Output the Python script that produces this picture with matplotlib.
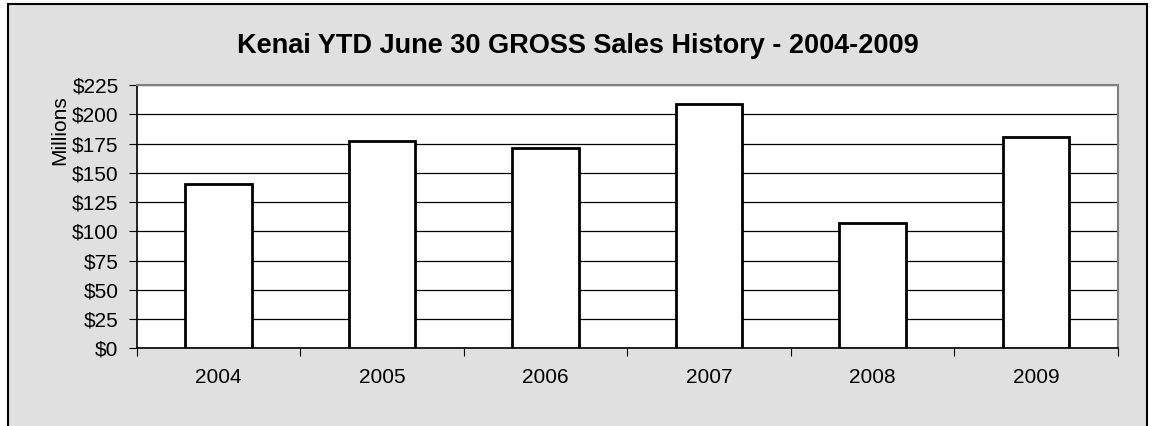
import matplotlib
matplotlib.use("Agg")
import matplotlib.pyplot as plt
from matplotlib.patches import Rectangle
import numpy as np

years = ["2004", "2005", "2006", "2007", "2008", "2009"]
sales = [140.6, 177.4, 171.4, 208.5, 107.3, 180.5]  # millions of dollars
yticks = [0, 25, 50, 75, 100, 125, 150, 175, 200, 225]

plt.rcParams['font.family'] = ['Liberation Sans', 'DejaVu Sans']

fig = plt.figure(figsize=(11.55, 4.26), dpi=100, facecolor='white')

# grey chart frame
fig.patches.append(Rectangle((8 / 1155, -0.05), 1139 / 1155, 1.05 - 4 / 426,
                             transform=fig.transFigure, facecolor='#e0e0e0',
                             edgecolor='black', linewidth=1.5, zorder=-5))

ax = fig.add_axes([0.1183, 0.1824, 0.8494, 0.618])
ax.set_facecolor('white')

x = np.arange(len(years))
ax.bar(x, sales, width=0.405, color='white', edgecolor='black', linewidth=2, zorder=3)

ax.set_ylim(0, 225)
ax.set_xlim(-0.5, len(years) - 0.5)
ax.set_yticks(yticks)
ax.set_yticklabels(["$%d" % v for v in yticks], fontsize=15)
ax.yaxis.grid(True, color='black', linewidth=0.9, zorder=1)
ax.set_axisbelow(True)

# ticks at category boundaries, labels at centers
ax.set_xticks(np.arange(-0.5, len(years), 1.0))
ax.set_xticklabels([])
ax.set_xticks(x, minor=True)
ax.set_xticklabels(years, minor=True, fontsize=15)
ax.tick_params(axis='x', which='minor', length=0, pad=14)
ax.tick_params(axis='x', which='major', length=6, direction='out', color='black')
ax.tick_params(axis='y', length=6, direction='out', pad=7, color='black')

for s in ['top', 'right']:
    ax.spines[s].set_color('#808080')
    ax.spines[s].set_linewidth(1.5)
for s in ['left', 'bottom']:
    ax.spines[s].set_color('black')
    ax.spines[s].set_linewidth(1.2)

ax.set_ylabel("Millions", fontsize=15)
ax.yaxis.set_label_coords(-0.069, 0.83)

fig.text(0.5, 1 - 46 / 426, "Kenai YTD June 30 GROSS Sales History - 2004-2009",
         ha='center', va='center', fontsize=19.5, fontweight='bold')

fig.savefig("out.png", dpi=100, facecolor='white')
